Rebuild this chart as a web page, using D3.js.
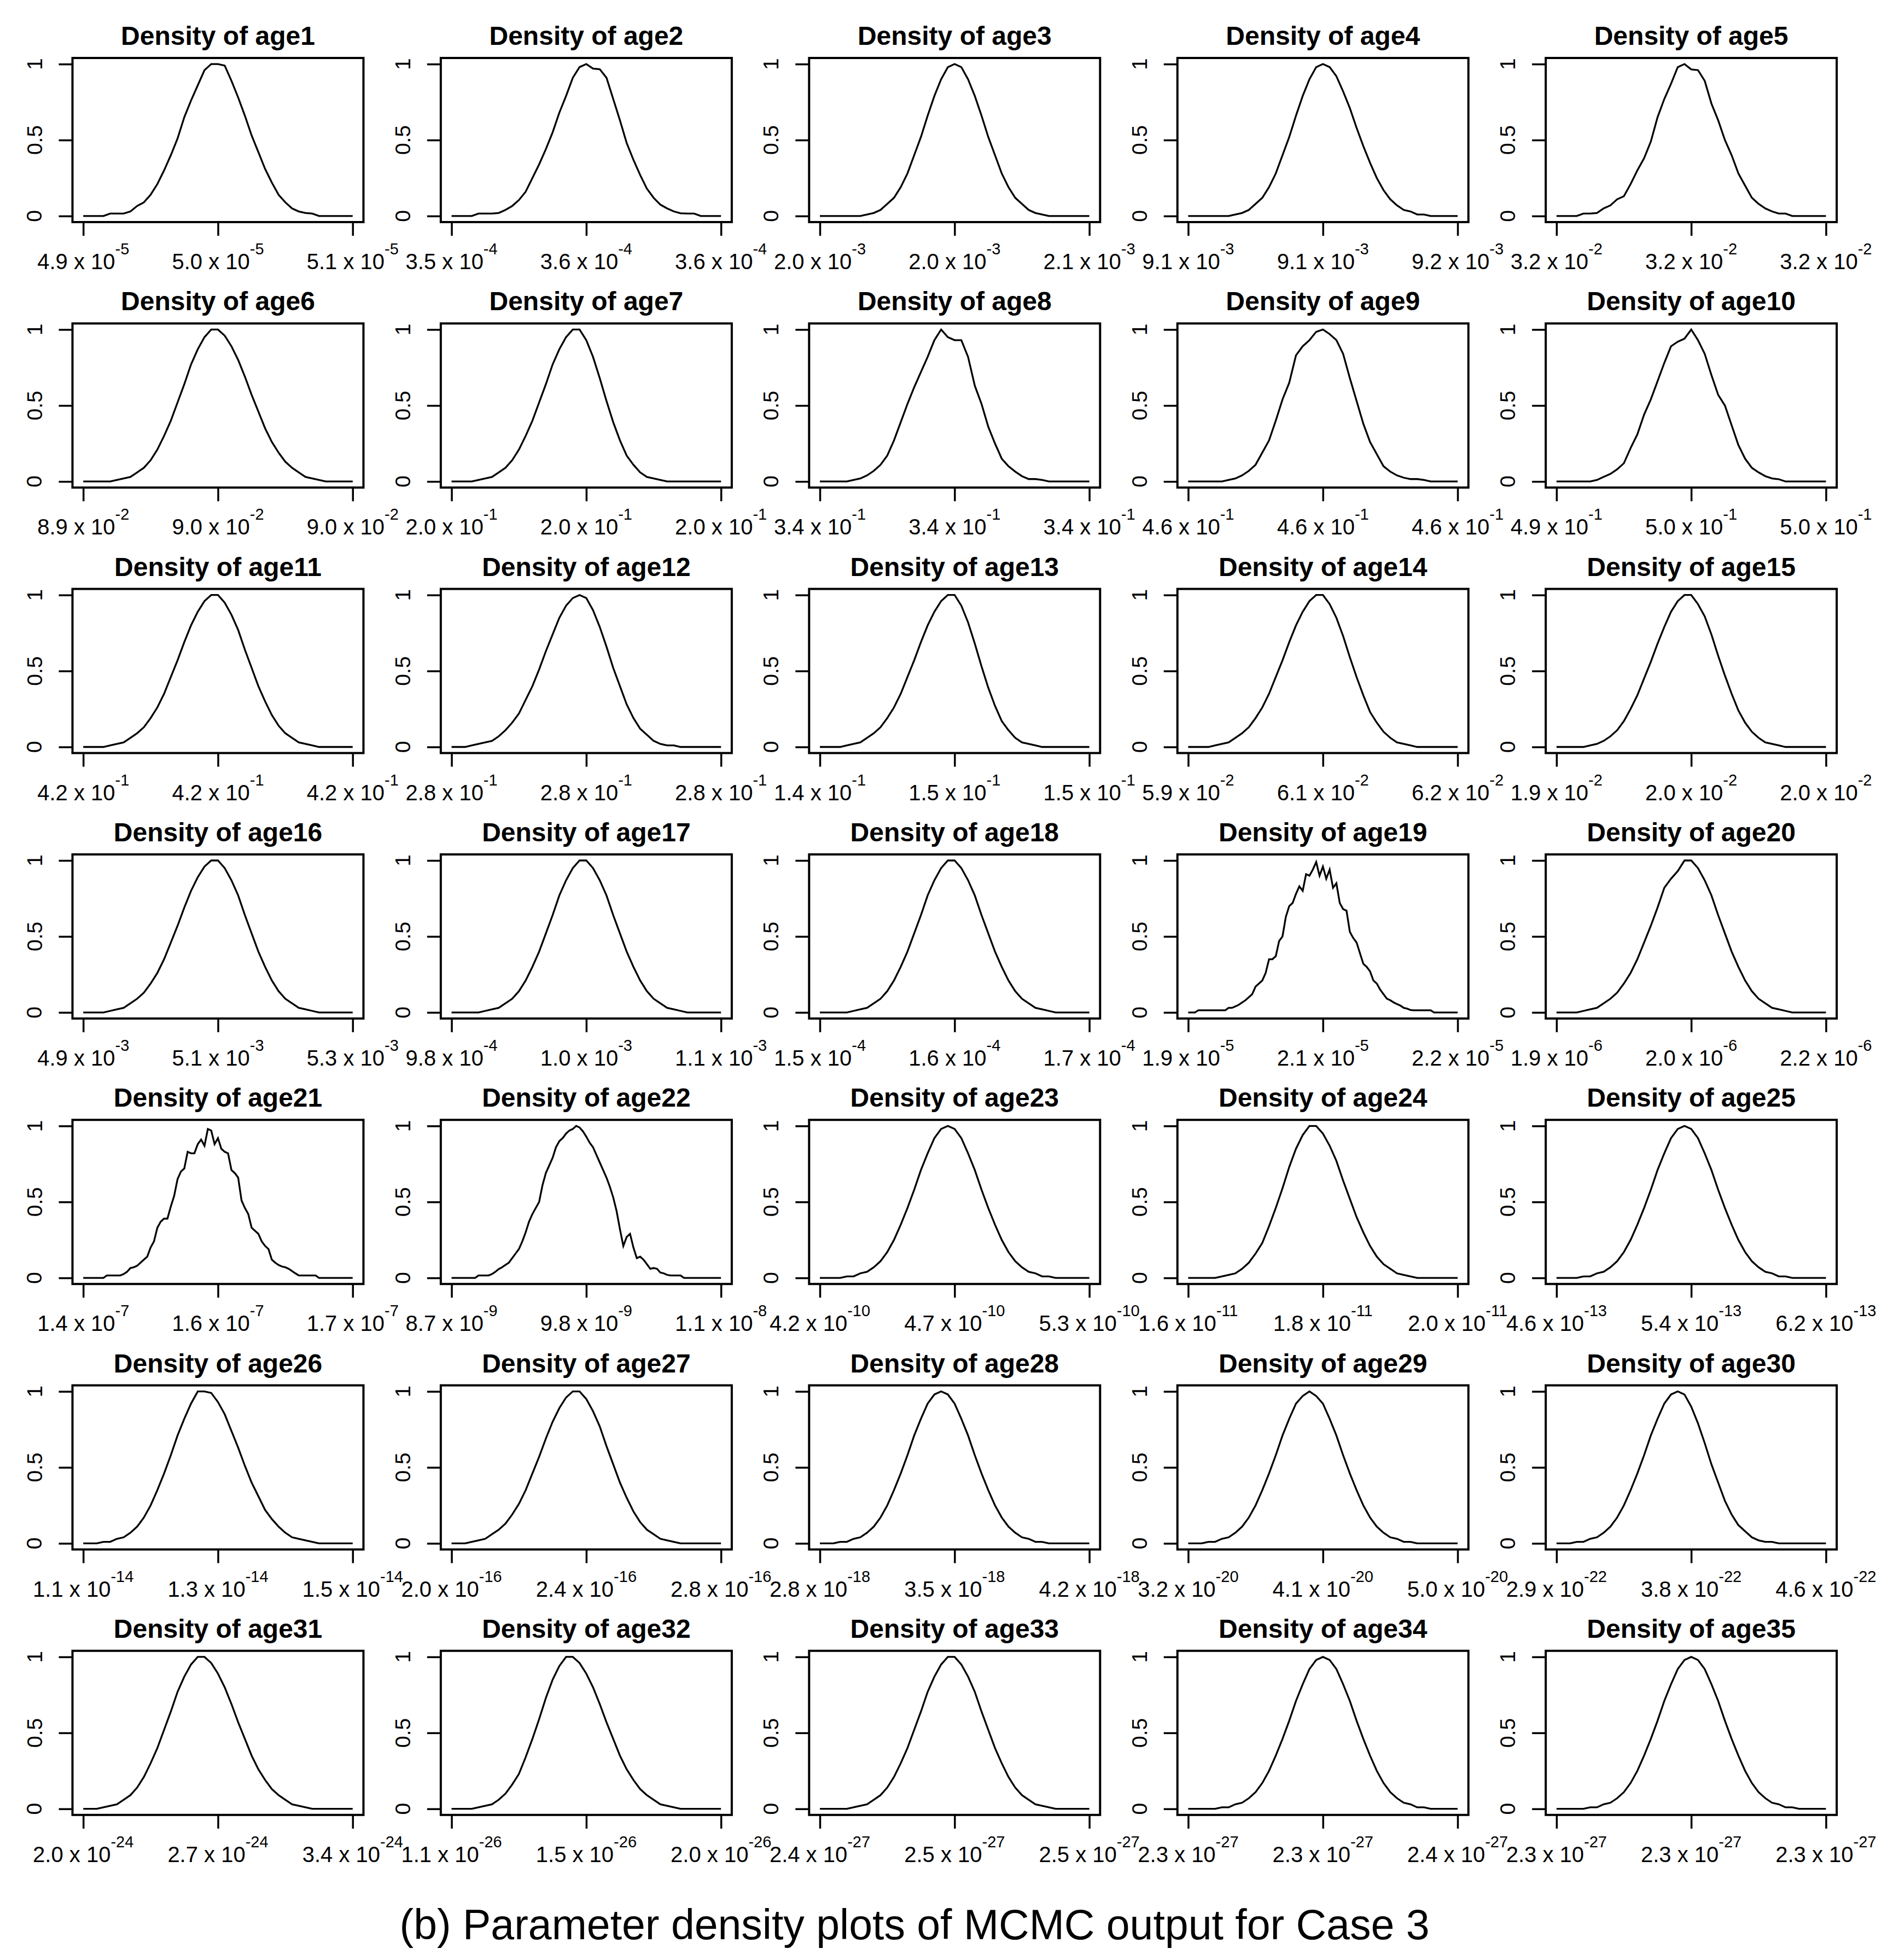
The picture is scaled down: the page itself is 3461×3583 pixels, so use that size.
<!DOCTYPE html>
<html><head><meta charset="utf-8">
<script src="https://cdn.jsdelivr.net/npm/d3@7"></script>
<style>body{margin:0;background:#fff}</style>
</head><body>
<svg id="chart" width="3461" height="3583"></svg>
<script>
// normalised density values, evenly spaced from the first x tick (0) to the last x tick (1)
const age1 = [0,0,0,0,.016,.016,.016,.03,.066,.09,.14,.21,.30,.40,.51,.65,.76,.86,.96,1,1,.99,.89,.78,.66,.53,.42,.31,.22,.14,.09,.05,.03,.02,.016,0,0,0,0,0,0];
const age2 = [0,0,0,0,.016,.016,.016,.02,.04,.066,.105,.16,.25,.34,.44,.55,.68,.79,.91,.98,1,.97,.966,.91,.77,.63,.48,.37,.27,.18,.12,.075,.05,.03,.018,.016,.016,0,0,0,0];
const age3 = [0,0,0,0,0,0,0,.01,.02,.04,.08,.12,.19,.28,.40,.52,.66,.79,.90,.98,1,.98,.90,.79,.66,.52,.40,.28,.19,.12,.08,.04,.02,.01,0,0,0,0,0,0,0];
const age4 = [0,0,0,0,0,0,0,.01,.02,.04,.08,.12,.19,.28,.40,.52,.66,.79,.90,.98,1,.98,.92,.82,.71,.58,.46,.35,.25,.17,.11,.07,.04,.03,.01,.01,0,0,0,0,0];
const age5 = [0,0,0,0,.016,.016,.02,.05,.07,.11,.13,.21,.30,.38,.49,.65,.77,.87,.98,1,.965,.96,.89,.74,.63,.50,.40,.28,.20,.12,.08,.05,.03,.016,.016,0,0,0,0,0,0];
const age6 = [0,0,0,0,0,.01,.02,.03,.06,.09,.14,.21,.30,.40,.52,.64,.77,.87,.95,1,1,.96,.89,.80,.69,.57,.46,.35,.26,.19,.13,.09,.06,.03,.02,.01,0,0,0,0,0];
const age7 = [0,0,0,0,.01,.02,.03,.06,.09,.14,.21,.30,.40,.52,.64,.77,.87,.95,1,1,.93,.82,.68,.53,.39,.27,.17,.11,.06,.03,.02,.01,0,0,0,0,0,0,0,0,0];
const age8 = [0,0,0,0,0,.01,.02,.04,.07,.11,.17,.27,.39,.51,.62,.72,.82,.93,1,.95,.93,.93,.82,.63,.51,.36,.25,.15,.10,.065,.035,.016,.016,.01,0,0,0,0,0,0,0];
const age9 = [0,0,0,0,0,0,.01,.02,.04,.07,.11,.19,.27,.40,.54,.65,.83,.89,.93,.985,1,.97,.93,.84,.68,.53,.38,.26,.18,.10,.065,.04,.025,.016,.016,.01,0,0,0,0,0];
const age10 = [0,0,0,0,0,0,.01,.03,.05,.08,.12,.22,.31,.44,.54,.66,.78,.89,.92,.94,1,.93,.84,.70,.57,.50,.37,.24,.15,.09,.06,.035,.02,.015,0,0,0,0,0,0,0];
const age11 = [0,0,0,0,.01,.02,.03,.06,.09,.13,.19,.26,.35,.46,.57,.69,.80,.89,.96,1,1,.95,.87,.77,.64,.52,.40,.30,.21,.14,.09,.06,.03,.02,.01,0,0,0,0,0,0];
const age12 = [0,0,0,.01,.02,.03,.04,.07,.11,.16,.22,.31,.40,.51,.63,.74,.85,.93,.98,1,.98,.90,.79,.66,.52,.40,.28,.19,.12,.08,.04,.02,.01,.01,0,0,0,0,0,0,0];
const age13 = [0,0,0,0,.01,.02,.03,.06,.09,.13,.19,.26,.35,.46,.57,.69,.80,.89,.96,1,1,.93,.82,.68,.53,.39,.27,.17,.11,.06,.03,.02,.01,0,0,0,0,0,0,0,0];
const age14 = [0,0,0,0,.01,.02,.03,.06,.09,.13,.19,.26,.35,.46,.57,.69,.80,.89,.96,1,1,.94,.85,.73,.59,.46,.34,.23,.16,.10,.06,.03,.02,.01,0,0,0,0,0,0,0];
const age15 = [0,0,0,0,0,.01,.02,.04,.07,.11,.17,.25,.34,.45,.56,.68,.79,.89,.96,1,1,.94,.86,.74,.60,.47,.35,.24,.16,.10,.06,.03,.02,.01,0,0,0,0,0,0,0];
const age16 = [0,0,0,0,.01,.02,.03,.06,.09,.13,.19,.26,.35,.46,.57,.69,.80,.89,.96,1,1,.95,.87,.77,.64,.52,.40,.30,.21,.14,.09,.06,.03,.02,.01,0,0,0,0,0,0];
const age17 = [0,0,0,0,0,.01,.02,.03,.06,.09,.14,.21,.30,.40,.52,.64,.77,.87,.95,1,1,.95,.87,.77,.64,.52,.40,.30,.21,.14,.09,.06,.03,.02,.01,0,0,0,0,0,0];
const age18 = [0,0,0,0,0,.01,.02,.03,.06,.09,.14,.21,.30,.40,.52,.64,.77,.87,.95,1,1,.95,.87,.77,.64,.52,.40,.30,.21,.14,.09,.06,.03,.02,.01,0,0,0,0,0,0];
const age19 = [0,0,0,.014,.014,.014,.014,.014,.014,.014,.014,.014,.03,.03,.04,.05,.065,.08,.10,.12,.17,.19,.21,.26,.35,.35,.37,.47,.50,.63,.70,.72,.78,.83,.80,.91,.90,.94,.99,.90,.96,.88,.94,.82,.85,.72,.68,.67,.53,.49,.46,.39,.32,.30,.27,.21,.19,.15,.12,.09,.08,.066,.055,.045,.03,.025,.016,.014,.014,.014,.014,.014,.014,0,0,0,0,0,0,0,0];
const age20 = [0,0,0,0,.01,.02,.03,.06,.09,.13,.19,.26,.35,.46,.57,.69,.82,.88,.93,1,1,.95,.87,.77,.64,.52,.40,.30,.21,.14,.09,.06,.03,.02,.01,0,0,0,0,0,0];
const age21 = [0,0,0,0,0,0,0,.016,.016,.016,.016,.016,.025,.04,.065,.07,.08,.10,.12,.14,.20,.24,.33,.37,.39,.39,.47,.54,.65,.70,.72,.83,.82,.82,.88,.91,.87,.98,.97,.88,.92,.85,.83,.82,.71,.69,.66,.51,.46,.42,.33,.31,.29,.24,.21,.19,.12,.10,.085,.075,.07,.06,.045,.03,.016,.016,.016,.016,.016,.016,0,0,0,0,0,0,0,0,0,0,0];
const age22 = [0,0,0,0,0,0,0,0,.016,.016,.016,.016,.025,.04,.058,.07,.085,.10,.13,.16,.19,.24,.30,.37,.42,.46,.50,.61,.69,.74,.79,.86,.90,.92,.95,.97,.98,1,.99,.965,.93,.89,.86,.81,.76,.71,.66,.60,.53,.44,.32,.21,.27,.29,.20,.13,.14,.12,.09,.06,.065,.06,.035,.03,.02,.016,.016,.016,.016,0,0,0,0,0,0,0,0,0,0,0,0];
const age23 = [0,0,0,0,.01,.01,.03,.04,.07,.11,.17,.25,.35,.46,.58,.71,.82,.92,.98,1,.98,.92,.82,.71,.58,.46,.35,.25,.17,.11,.07,.04,.03,.01,.01,0,0,0,0,0,0];
const age24 = [0,0,0,0,0,.01,.02,.03,.06,.10,.16,.23,.34,.46,.59,.73,.85,.94,1,1,.95,.87,.77,.64,.52,.40,.30,.21,.14,.09,.06,.03,.02,.01,0,0,0,0,0,0,0];
const age25 = [0,0,0,0,.01,.01,.03,.04,.07,.11,.17,.25,.35,.46,.58,.71,.82,.92,.98,1,.98,.92,.82,.71,.58,.46,.35,.25,.17,.11,.07,.04,.03,.01,.01,0,0,0,0,0,0];
const age26 = [0,0,0,.01,.01,.03,.04,.07,.11,.17,.25,.35,.46,.58,.71,.82,.92,1,1,.99,.93,.85,.74,.63,.51,.40,.31,.22,.16,.11,.07,.04,.03,.02,.01,0,0,0,0,0,0];
const age27 = [0,0,0,.01,.02,.03,.06,.09,.13,.19,.26,.35,.46,.57,.69,.80,.89,.96,1,1,.95,.87,.77,.64,.52,.40,.30,.21,.14,.09,.06,.03,.02,.01,0,0,0,0,0,0,0];
const age28 = [0,0,0,.01,.01,.03,.04,.07,.11,.17,.25,.35,.46,.58,.71,.82,.92,.98,1,.98,.92,.82,.71,.58,.46,.35,.25,.17,.11,.07,.04,.03,.01,.01,0,0,0,0,0,0,0];
const age29 = [0,0,0,.01,.01,.03,.04,.07,.11,.17,.25,.35,.46,.58,.71,.82,.92,.97,1,.97,.92,.82,.71,.58,.46,.35,.25,.17,.11,.07,.04,.03,.01,.01,0,0,0,0,0,0,0];
const age30 = [0,0,0,.01,.01,.03,.04,.07,.11,.17,.25,.35,.46,.58,.71,.82,.92,.98,1,.98,.90,.79,.66,.52,.40,.28,.19,.12,.08,.04,.02,.01,.01,0,0,0,0,0,0,0,0];
const age31 = [0,0,0,.01,.02,.03,.06,.09,.14,.21,.30,.40,.52,.64,.77,.87,.95,1,1,.96,.89,.80,.69,.57,.46,.35,.26,.19,.13,.09,.06,.03,.02,.01,0,0,0,0,0,0,0];
const age32 = [0,0,0,0,.01,.02,.03,.06,.10,.16,.23,.34,.46,.59,.73,.85,.94,1,1,.96,.89,.80,.69,.57,.46,.35,.26,.19,.13,.09,.06,.03,.02,.01,0,0,0,0,0,0,0];
const age33 = [0,0,0,0,0,.01,.02,.03,.06,.09,.14,.21,.30,.40,.52,.64,.77,.87,.95,1,1,.95,.87,.77,.64,.52,.40,.30,.21,.14,.09,.06,.03,.02,.01,0,0,0,0,0,0];
const age34 = [0,0,0,0,0,.01,.01,.03,.04,.07,.11,.17,.25,.35,.46,.58,.71,.82,.92,.98,1,.98,.92,.82,.71,.58,.46,.35,.25,.17,.11,.07,.04,.03,.01,.01,0,0,0,0,0];
const age35 = [0,0,0,0,0,.01,.01,.03,.04,.07,.11,.17,.25,.35,.46,.58,.71,.82,.92,.98,1,.98,.92,.82,.71,.58,.46,.35,.25,.17,.11,.07,.04,.03,.01,.01,0,0,0,0,0];

const densityCurves = [age1,age2,age3,age4,age5,age6,age7,age8,age9,age10,age11,age12,age13,age14,age15,
  age16,age17,age18,age19,age20,age21,age22,age23,age24,age25,age26,age27,age28,age29,age30,age31,age32,age33,age34,age35];
const panelTitles = densityCurves.map((_, i) => "Density of age" + (i + 1));

const tickMantissas = [
  ["4.9","5.0","5.1"],["3.5","3.6","3.6"],["2.0","2.0","2.1"],["9.1","9.1","9.2"],["3.2","3.2","3.2"],
  ["8.9","9.0","9.0"],["2.0","2.0","2.0"],["3.4","3.4","3.4"],["4.6","4.6","4.6"],["4.9","5.0","5.0"],
  ["4.2","4.2","4.2"],["2.8","2.8","2.8"],["1.4","1.5","1.5"],["5.9","6.1","6.2"],["1.9","2.0","2.0"],
  ["4.9","5.1","5.3"],["9.8","1.0","1.1"],["1.5","1.6","1.7"],["1.9","2.1","2.2"],["1.9","2.0","2.2"],
  ["1.4","1.6","1.7"],["8.7","9.8","1.1"],["4.2","4.7","5.3"],["1.6","1.8","2.0"],["4.6","5.4","6.2"],
  ["1.1","1.3","1.5"],["2.0","2.4","2.8"],["2.8","3.5","4.2"],["3.2","4.1","5.0"],["2.9","3.8","4.6"],
  ["2.0","2.7","3.4"],["1.1","1.5","2.0"],["2.4","2.5","2.5"],["2.3","2.3","2.4"],["2.3","2.3","2.3"]
];
const tickExponents = [
  [-5,-5,-5],[-4,-4,-4],[-3,-3,-3],[-3,-3,-3],[-2,-2,-2],
  [-2,-2,-2],[-1,-1,-1],[-1,-1,-1],[-1,-1,-1],[-1,-1,-1],
  [-1,-1,-1],[-1,-1,-1],[-1,-1,-1],[-2,-2,-2],[-2,-2,-2],
  [-3,-3,-3],[-4,-3,-3],[-4,-4,-4],[-5,-5,-5],[-6,-6,-6],
  [-7,-7,-7],[-9,-9,-8],[-10,-10,-10],[-11,-11,-11],[-13,-13,-13],
  [-14,-14,-14],[-16,-16,-16],[-18,-18,-18],[-20,-20,-20],[-22,-22,-22],
  [-24,-24,-24],[-26,-26,-26],[-27,-27,-27],[-27,-27,-27],[-27,-27,-27]
];
const xTickPositions = [0, 0.5, 1];
const yTickValues = [0, 0.5, 1];
const yTickLabels = ["0", "0.5", "1"];
const captionText = "(b) Parameter density plots of MCMC output for Case 3";

const svg = d3.select("#chart");
svg.append("rect").attr("width", 3461).attr("height", 3583).attr("fill", "#fff");
const font = "'Liberation Sans', Arial, Helvetica, sans-serif";
const nCols = 5, boxW = 532, boxH = 300;
const col0 = 132.5, colStep = 673.4, row0 = 106, rowStep = 485.3;
const x = d3.scaleLinear().domain([-0.04, 1.04]).range([0, boxW]);
const y = d3.scaleLinear().domain([-0.04, 1.04]).range([boxH, 0]);

densityCurves.forEach((vals, p) => {
  const c = p % nCols, r = Math.floor(p / nCols);
  const g = svg.append("g").attr("transform", `translate(${col0 + c * colStep},${row0 + r * rowStep})`);

  g.append("text").attr("x", boxW / 2).attr("y", -24)
    .attr("text-anchor", "middle").attr("font-family", font)
    .attr("font-weight", "bold").attr("font-size", 48).attr("fill", "#000")
    .text(panelTitles[p]);

  const line = d3.line().x((d, i) => x(i / (vals.length - 1))).y(d => y(d));
  g.append("path").datum(vals).attr("d", line)
    .attr("fill", "none").attr("stroke", "#000").attr("stroke-width", 3.3)
    .attr("stroke-linejoin", "miter");

  const xa = g.append("g").attr("transform", `translate(0,${boxH})`)
    .call(d3.axisBottom(x).tickValues(xTickPositions).tickSize(25).tickFormat(""));
  xa.select(".domain").remove();
  xa.selectAll(".tick line").attr("stroke", "#000").attr("stroke-width", 3.5);
  xTickPositions.forEach((t, k) => {
    const txt = g.append("text").attr("x", x(t)).attr("y", boxH + 86)
      .attr("text-anchor", "middle").attr("font-family", font)
      .attr("font-size", 40).attr("fill", "#000");
    txt.append("tspan").text(tickMantissas[p][k] + " x 10");
    txt.append("tspan").attr("dy", -27).attr("font-size", 29).text(String(tickExponents[p][k]));
  });

  const ya = g.append("g")
    .call(d3.axisLeft(y).tickValues(yTickValues).tickSize(25).tickFormat(""));
  ya.select(".domain").remove();
  ya.selectAll(".tick line").attr("stroke", "#000").attr("stroke-width", 3.5);
  yTickValues.forEach((v, k) => {
    g.append("text").attr("x", -56).attr("y", y(v))
      .attr("transform", `rotate(-90,-56,${y(v)})`)
      .attr("text-anchor", "middle").attr("font-family", font)
      .attr("font-size", 39).attr("fill", "#000")
      .text(yTickLabels[k]);
  });

  g.append("rect").attr("x", 0).attr("y", 0).attr("width", boxW).attr("height", boxH)
    .attr("fill", "none").attr("stroke", "#000").attr("stroke-width", 4);
});

svg.append("text").attr("x", 1672).attr("y", 3545)
  .attr("text-anchor", "middle").attr("font-family", font)
  .attr("font-size", 77).attr("fill", "#000")
  .text(captionText);
</script>
</body></html>
